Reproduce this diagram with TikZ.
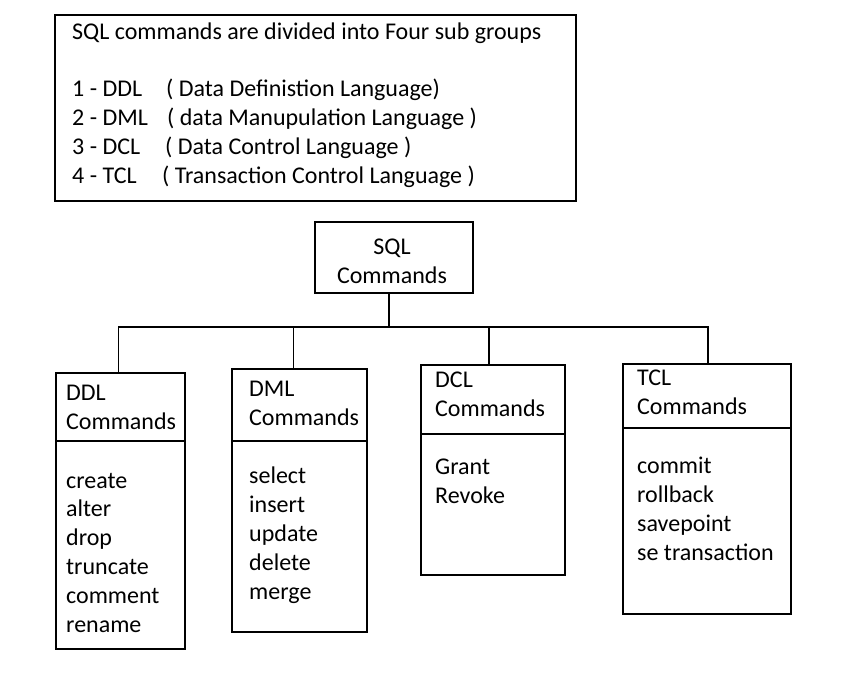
\documentclass[tikz,border=0pt]{standalone}
\usepackage{fontspec}
\setmainfont{Carlito}
\usepackage{tikz}
\usetikzlibrary{positioning,calc}

\begin{document}
\begin{tikzpicture}[x=1pt, y=-1pt,
        box/.style={draw, line width=1.2pt, inner sep=0pt, outer sep=0pt, anchor=north west},
        headbox/.style={box, line width=1.8pt},
        txt/.style={anchor=base west, align=left, inner sep=0pt, font=\fontsize{24}{28.8}\selectfont},
        link/.style={line width=1.2pt}
        ]
    \useasboundingbox (0,0) rectangle (841,693);

    % Note on top (texts placed at the baseline of their last line)
    \node[box, minimum width=521pt, minimum height=186pt] (note) at (55,15) {};
    \node[txt] (notetxt) at (72,183) {SQL commands are divided into Four sub groups\\[28.8pt]
        \makebox[94pt][l]{1 - DDL}( Data Definistion Language)\\
        \makebox[95pt][l]{2 - DML}( data Manupulation Language )\\
        \makebox[93pt][l]{3 - DCL}( Data Control Language )\\
        \makebox[90pt][l]{4 - TCL}( Transaction Control Language )};

    % Root
    \node[box, minimum width=158pt, minimum height=71pt] (sql) at (315,222) {};
    \node[txt, anchor=base, align=center] (sqltxt) at (392,283) {SQL\\Commands};

    % Groups
    \node[headbox, minimum width=129pt, minimum height=68pt] (ddlh) at (56,373) {};
    \node[box, minimum width=129pt, minimum height=208pt] (ddlb) at (ddlh.south west) {};
    \node[txt] (ddltxt) at (66,429) {DDL\\Commands};
    \node[txt] (ddllist) at (66,632) {create\\alter\\drop\\truncate\\comment\\rename};

    \node[headbox, minimum width=135pt, minimum height=72pt] (dmlh) at (232,369) {};
    \node[box, minimum width=135pt, minimum height=191pt] (dmlb) at (dmlh.south west) {};
    \node[txt] (dmltxt) at (249,425) {DML\\Commands};
    \node[txt] (dmllist) at (249,599) {select\\insert\\update\\delete\\merge};

    \node[headbox, minimum width=144pt, minimum height=69pt] (dclh) at (421,365) {};
    \node[box, minimum width=144pt, minimum height=141pt] (dclb) at (dclh.south west) {};
    \node[txt] (dcltxt) at (435,416) {DCL\\Commands};
    \node[txt] (dcllist) at (435,503) {Grant\\Revoke};

    \node[headbox, minimum width=168pt, minimum height=64pt] (tclh) at (623,364) {};
    \node[box, minimum width=168pt, minimum height=186pt] (tclb) at (tclh.south west) {};
    \node[txt] (tcltxt) at (637,414) {TCL\\Commands};
    \node[txt] (tcllist) at (637,560) {commit\\rollback\\savepoint\\se transaction};

    % Lines
    \draw[link] ([xshift=-5pt]sql.south) -- ++(0,34) coordinate (bus);
    \draw[link] ([xshift=-2pt]ddlh.north) |- (bus) -| ([xshift=1pt]tclh.north);
    \draw[link] ([xshift=-6pt]dmlh.north) -- ([xshift=-6pt]dmlh.north |- bus);
    \draw[link] ([xshift=-4pt]dclh.north) -- ([xshift=-4pt]dclh.north |- bus);
\end{tikzpicture}
\end{document}
